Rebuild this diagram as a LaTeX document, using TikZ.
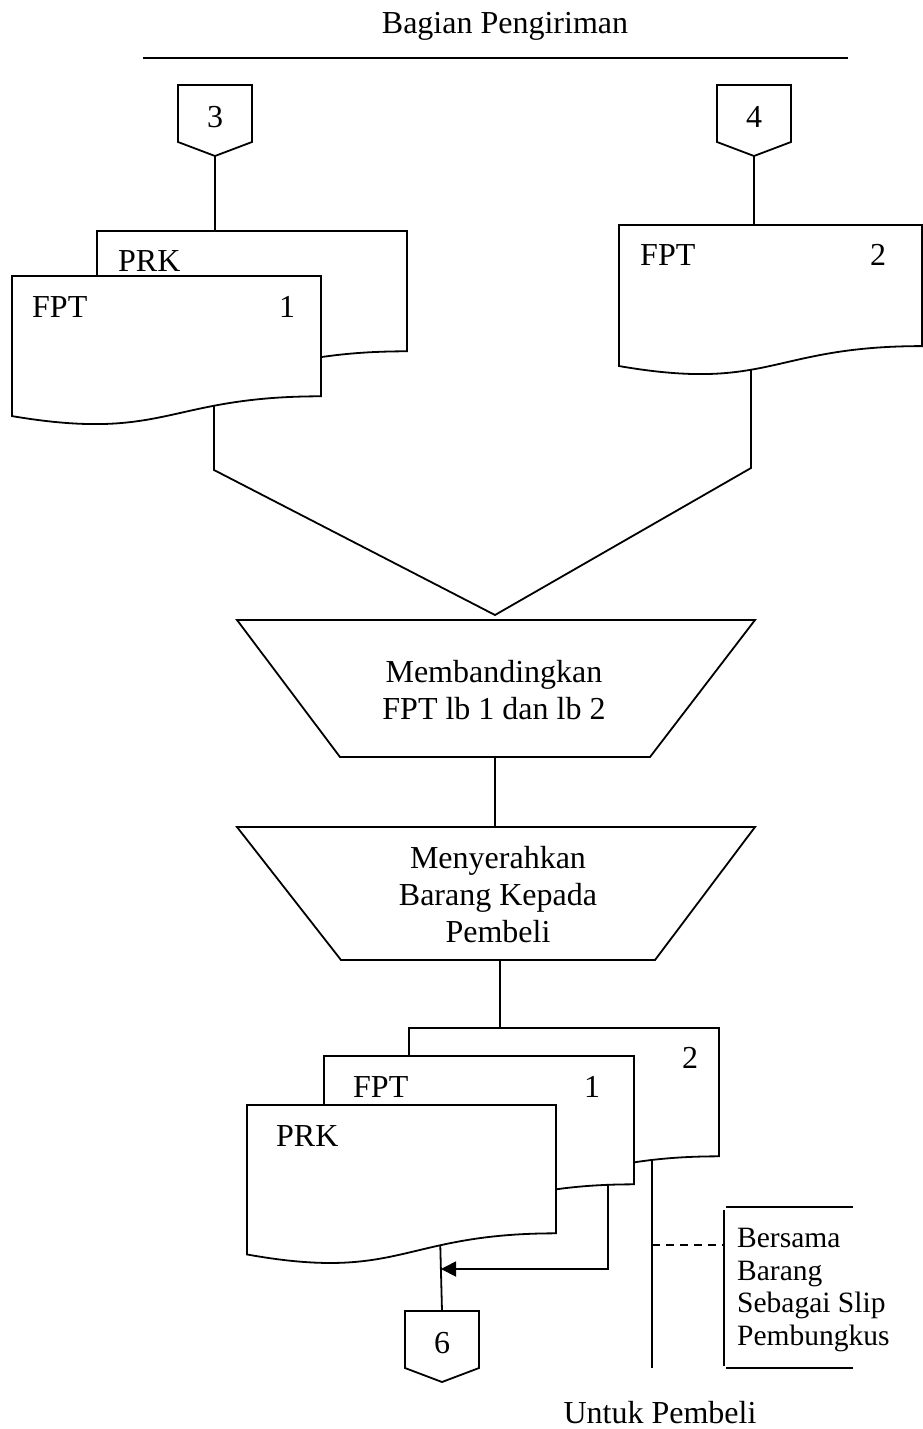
\documentclass[tikz,border=0pt]{standalone}
\usepackage{fontspec}
\setmainfont{Liberation Serif}
\usetikzlibrary{arrows.meta}

\tikzset{
  flow/.style={line width=1.8pt, black},
  sheet/.style={flow, fill=white},
  lbl/.style={inner sep=0pt, anchor=base, font=\fontsize{32}{37}\selectfont},
  lblw/.style={lbl, anchor=base west},
  notetext/.style={inner sep=0pt, anchor=north west, align=left,
                   font=\fontsize{29.5}{32.7}\selectfont},
  dashline/.style={flow, dash pattern=on 8pt off 6pt},
  tip/.style={-{Triangle[length=15pt,width=15pt]}}
}

% document sheet: left, top, width, height
\newcommand\docsheet[4]{%
  \draw[sheet] (#1,#2) -- (#1+#3,#2) -- (#1+#3,#2+0.802*#4)
    .. controls (#1+0.5*#3,#2+0.802*#4) and (#1+0.5*#3,#2+1.1075*#4) ..
    (#1,#2+0.934*#4) -- cycle;}

% off-page connector: name, centre x, top y, label
\newcommand\offpage[4]{%
  \draw[sheet] (#2-37,#3) -- (#2+37,#3) -- (#2+37,#3+57) -- (#2,#3+71)
    -- (#2-37,#3+57) -- cycle;
  \node[lbl] (#1) at (#2,#3+42) {#4};
  \coordinate (#1-in) at (#2,#3);
  \coordinate (#1-out) at (#2,#3+71);}

\begin{document}
\begin{tikzpicture}[x=1pt,y=-1pt]
\useasboundingbox (0,0) rectangle (923,1429);

% swimlane heading
\node[lbl] (title) at (505,34) {Bagian Pengiriman};
\coordinate (ruleL) at (143,58);
\coordinate (ruleR) at (848,58);
\draw[flow] (ruleL) -- (ruleR);

% connection points
\coordinate (prkTop)    at (215,231);
\coordinate (fpt1Out)   at (214,395);
\coordinate (leftBend)  at (214,470);
\coordinate (fpt2Top)   at (754,225);
\coordinate (fpt2Out)   at (751,355);
\coordinate (rightBend) at (751,468);
\coordinate (merge)     at (495,615);
\coordinate (cmpOut)    at (495,757);
\coordinate (handIn)    at (495,827);
\coordinate (handOut)   at (500,960);
\coordinate (copyTop)   at (500,1028);
\coordinate (prkOut)    at (440,1235);
\coordinate (fptOut)    at (608,1175);
\coordinate (fptBend)   at (608,1269);
\coordinate (arrowTip)  at (441,1269);
\coordinate (copy2Out)  at (652,1150);
\coordinate (buyerEnd)  at (652,1368);
\coordinate (noteJoin)  at (652,1245);
\coordinate (noteEdge)  at (724,1245);

% off-page connectors (drawn first so their anchors exist)
\offpage{off3}{215}{85}{3}
\offpage{off4}{754}{85}{4}
\offpage{off6}{442}{1311}{6}

% flow lines
\draw[flow] (off3-out) -- (prkTop);
\draw[flow] (off4-out) -- (fpt2Top);
\draw[flow] (fpt1Out) -- (leftBend) -- (merge) -- (rightBend) -- (fpt2Out);
\draw[flow] (cmpOut) -- (handIn);
\draw[flow] (handOut) -- (copyTop);
\draw[flow] (prkOut) -- (off6-in);
\draw[flow, tip] (fptOut) -- (fptBend) -- (arrowTip);
\draw[flow] (copy2Out) -- (buyerEnd);
\draw[dashline] (noteJoin) -- (noteEdge);

% annotation bracket
\coordinate (brTopR) at (853,1207);
\coordinate (brTopL) at (726,1207);
\coordinate (brSideT) at (724,1210);
\coordinate (brSideB) at (724,1366);
\coordinate (brBotL) at (726,1368);
\coordinate (brBotR) at (853,1368);
\draw[flow] (brTopL) -- (brTopR);
\draw[flow] (brSideT) -- (brSideB);
\draw[flow] (brBotL) -- (brBotR);

% documents, upper part
\docsheet{97}{231}{310}{150}
\docsheet{12}{276}{309}{150}
\docsheet{619}{225}{303}{151}

% manual operations
\draw[sheet] (237,620) -- (755,620) -- (650,757) -- (340,757) -- cycle;
\draw[sheet] (237,827) -- (755,827) -- (655,960) -- (341,960) -- cycle;

% documents, lower part
\docsheet{409}{1028}{310}{160}
\docsheet{324}{1056}{310}{160}
\docsheet{247}{1105}{309}{160}

% texts
\node[lblw] (prkA)  at (118,271) {PRK};
\node[lblw] (fptA)  at (32,317) {FPT};
\node[lbl]  (oneA)  at (287,317) {1};
\node[lblw] (fptB)  at (640,265) {FPT};
\node[lbl]  (twoB)  at (878,265) {2};

\node[lbl, anchor=center, align=center] (cmp) at (494,690)
  {Membandingkan\\FPT lb 1 dan lb 2};
\node[lbl, anchor=center, align=center] (hand) at (498,895)
  {Menyerahkan\\Barang Kepada\\Pembeli};

\node[lbl]  (twoC)  at (690,1068) {2};
\node[lblw] (fptC)  at (353,1097) {FPT};
\node[lbl]  (oneC)  at (592,1097) {1};
\node[lblw] (prkC)  at (276,1146) {PRK};

\node[notetext] (note) at (737,1228)
  {Bersama\\Barang\\Sebagai Slip\\Pembungkus};
\node[lbl] (buyer) at (660,1423) {Untuk Pembeli};
\end{tikzpicture}
\end{document}
